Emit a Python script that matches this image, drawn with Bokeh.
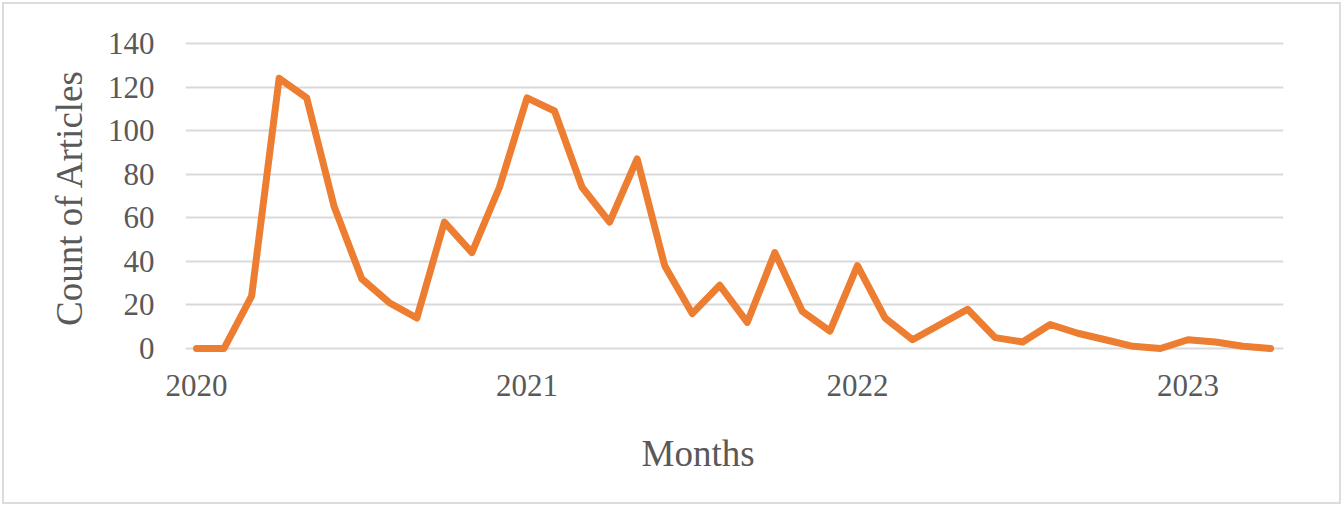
from bokeh.plotting import figure
from bokeh.models import FixedTicker, Range1d, ColumnDataSource, Title
from bokeh.embed import file_html
from bokeh.resources import INLINE

# Monthly counts Jan 2020 .. Apr 2023
months = [f"{y}-{m:02d}" for y in (2020, 2021, 2022, 2023) for m in range(1, 13)][:40]
counts = [0, 0, 24, 124, 115, 65, 32, 21, 14, 58, 44, 74,
          115, 109, 74, 58, 87, 38, 16, 29, 12, 44, 17, 8,
          38, 14, 4, 11, 18, 5, 3, 11, 7, 4, 1, 0,
          4, 3, 1, 0]
year_labels = ["2020", "2021", "2022", "2023"]
y_ticks = [0, 20, 40, 60, 80, 100, 120, 140]

idx = list(range(len(months)))
src = ColumnDataSource(dict(x=idx, y=counts, month=months))

FONT = "Liberation Serif"
TXT = "#595959"

p = figure(width=1343, height=506, output_backend="svg", toolbar_location=None,
           x_range=Range1d(-0.4, 39.47), y_range=Range1d(-4.6, 143.2),
           min_border_left=185, min_border_right=60, min_border_top=36, min_border_bottom=148)
p.styles = {"outline": "2px solid #dcdcdc", "outline-offset": "-4px"}

p.line("x", "y", source=src, line_color="#ED7D31", line_width=7,
       line_join="round", line_cap="round")

p.outline_line_color = None
p.background_fill_color = "white"
p.border_fill_alpha = 0

p.xgrid.grid_line_color = None
p.ygrid.grid_line_color = "#d9d9d9"
p.ygrid.grid_line_width = 2
p.yaxis.ticker = FixedTicker(ticks=y_ticks)
p.xaxis.ticker = FixedTicker(ticks=[0, 12, 24, 36])
p.xaxis.major_label_overrides = {12 * i: lab for i, lab in enumerate(year_labels)}

for ax in (p.xaxis[0], p.yaxis[0]):
    ax.axis_line_color = None
    ax.major_tick_line_color = None
    ax.minor_tick_line_color = None
    ax.major_label_text_font = FONT
    ax.major_label_text_font_size = "31px"
    ax.major_label_text_color = TXT
    ax.axis_label_text_font = FONT
    ax.axis_label_text_font_size = "37px"
    ax.axis_label_text_font_style = "normal"
    ax.axis_label_text_color = TXT

p.yaxis.axis_label = "Count of Articles"
p.yaxis.major_label_standoff = 25
p.yaxis.axis_label_standoff = 15
p.xaxis.major_label_standoff = 10

p.add_layout(Title(text="Months", align="left", offset=456, standoff=64,
                   text_font=FONT, text_font_size="37px", text_font_style="normal",
                   text_color=TXT), "below")

open("out.html", "w").write(file_html(p, INLINE))
